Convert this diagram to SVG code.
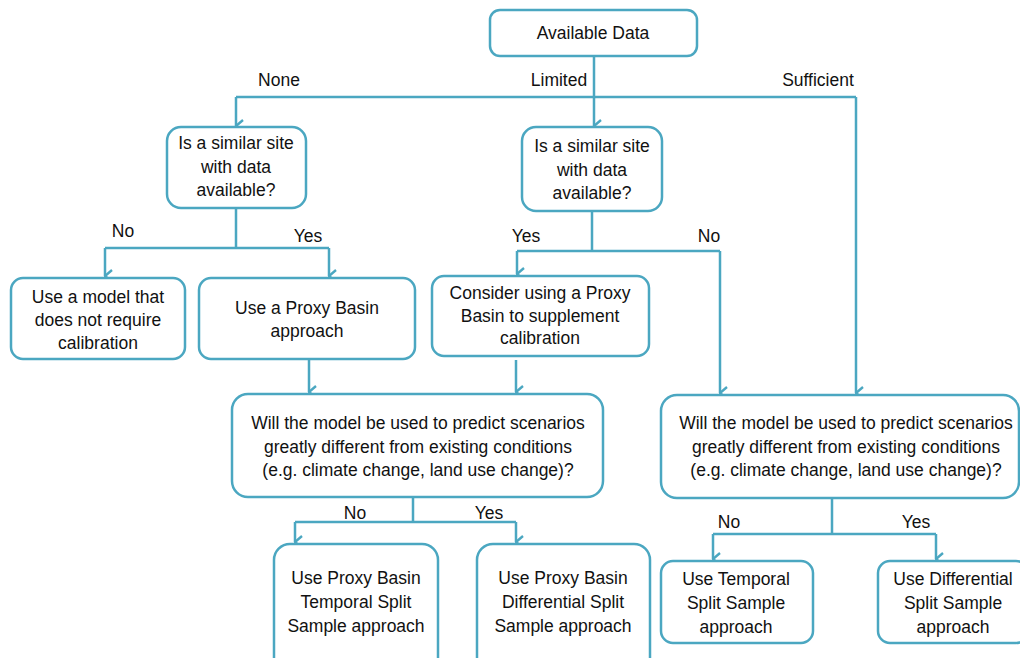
<svg xmlns="http://www.w3.org/2000/svg" width="1020" height="658" viewBox="0 0 1020 658">
<style>
.box{fill:#fff;stroke:#4BA7C1;stroke-width:2.5}
.t{font-family:"Liberation Sans",Arial,sans-serif;font-size:17.5px;fill:#111;text-anchor:middle;dominant-baseline:central}
.c{fill:none;stroke:#4BA7C1;stroke-width:2.5}
</style>
<defs>
<marker id="ar" viewBox="0 0 14 14" refX="7" refY="13" markerWidth="14" markerHeight="14" markerUnits="userSpaceOnUse" orient="auto-start-reverse">
<path d="M1,6 L7,13 L13,6" fill="none" stroke="#4BA7C1" stroke-width="2.4"/>
</marker>
</defs>
<rect width="1020" height="658" fill="#fff"/>
<g id="connectors">
<path class="c" d="M594,56 V97"/>
<path class="c" d="M236,97 H856"/>
<path class="c" d="M236,97 V126" marker-end="url(#ar)"/>
<path class="c" d="M594,97 V126" marker-end="url(#ar)"/>
<path class="c" d="M856,97 V393" marker-end="url(#ar)"/>
<path class="c" d="M236,208 V248 M105,248 H329"/>
<path class="c" d="M105,248 V276" marker-end="url(#ar)"/>
<path class="c" d="M329,248 V276" marker-end="url(#ar)"/>
<path class="c" d="M592,211 V251 M517,251 H720"/>
<path class="c" d="M517,251 V274" marker-end="url(#ar)"/>
<path class="c" d="M720,251 V393" marker-end="url(#ar)"/>
<path class="c" d="M309,359 V392" marker-end="url(#ar)"/>
<path class="c" d="M516,360 V392" marker-end="url(#ar)"/>
<path class="c" d="M413,497 V522 M295,522 H516"/>
<path class="c" d="M295,522 V542" marker-end="url(#ar)"/>
<path class="c" d="M516,522 V542" marker-end="url(#ar)"/>
<path class="c" d="M832,498 V534 M713,534 H936"/>
<path class="c" d="M713,534 V559" marker-end="url(#ar)"/>
<path class="c" d="M936,534 V559" marker-end="url(#ar)"/>
<text class="t" x="279" y="80">None</text>
<text class="t" x="559" y="80">Limited</text>
<text class="t" x="818" y="80">Sufficient</text>
<text class="t" x="123" y="231">No</text>
<text class="t" x="308" y="236">Yes</text>
<text class="t" x="526" y="236">Yes</text>
<text class="t" x="709" y="236">No</text>
<text class="t" x="355" y="513">No</text>
<text class="t" x="489" y="513">Yes</text>
<text class="t" x="729" y="522">No</text>
<text class="t" x="916" y="522">Yes</text>
</g>
<g id="available">
<rect class="box" x="490" y="10" width="207" height="46" rx="10"/>
<text class="t" x="593" y="33">Available Data</text>
</g>
<g id="q-left">
<rect class="box" x="167" y="127" width="139" height="81" rx="14"/>
<text class="t" x="236" y="143">Is a similar site</text>
<text class="t" x="236" y="167">with data</text>
<text class="t" x="236" y="190">available?</text>
</g>
<g id="q-mid">
<rect class="box" x="522" y="127" width="140" height="84" rx="14"/>
<text class="t" x="592" y="146">Is a similar site</text>
<text class="t" x="592" y="170">with data</text>
<text class="t" x="592" y="193">available?</text>
</g>
<g id="no-calib">
<rect class="box" x="11" y="278" width="174" height="81" rx="12"/>
<text class="t" x="98" y="297">Use a model that</text>
<text class="t" x="98" y="320">does not require</text>
<text class="t" x="98" y="343">calibration</text>
</g>
<g id="proxy">
<rect class="box" x="199" y="278" width="216" height="81" rx="12"/>
<text class="t" x="307" y="308">Use a Proxy Basin</text>
<text class="t" x="307" y="331">approach</text>
</g>
<g id="consider">
<rect class="box" x="432" y="276" width="217" height="80" rx="12"/>
<text class="t" x="540" y="293">Consider using a Proxy</text>
<text class="t" x="540" y="316">Basin to supplement</text>
<text class="t" x="540" y="338">calibration</text>
</g>
<g id="will-left">
<rect class="box" x="232" y="394" width="371" height="103" rx="16"/>
<text class="t" x="418" y="423">Will the model be used to predict scenarios</text>
<text class="t" x="418" y="447">greatly different from existing conditions</text>
<text class="t" x="418" y="470">(e.g. climate change, land use change)?</text>
</g>
<g id="will-right">
<rect class="box" x="661" y="395" width="358" height="103" rx="16"/>
<text class="t" x="846" y="423">Will the model be used to predict scenarios</text>
<text class="t" x="846" y="447">greatly different from existing conditions</text>
<text class="t" x="846" y="470">(e.g. climate change, land use change)?</text>
</g>
<g id="pb-temporal">
<rect class="box" x="274" y="544" width="164" height="130" rx="16"/>
<text class="t" x="356" y="578">Use Proxy Basin</text>
<text class="t" x="356" y="602">Temporal Split</text>
<text class="t" x="356" y="626">Sample approach</text>
</g>
<g id="pb-differential">
<rect class="box" x="477" y="544" width="173" height="130" rx="16"/>
<text class="t" x="563" y="578">Use Proxy Basin</text>
<text class="t" x="563" y="602">Differential Split</text>
<text class="t" x="563" y="626">Sample approach</text>
</g>
<g id="temporal">
<rect class="box" x="661" y="561" width="152" height="82" rx="12"/>
<text class="t" x="736" y="579">Use Temporal</text>
<text class="t" x="736" y="603">Split Sample</text>
<text class="t" x="736" y="627">approach</text>
</g>
<g id="differential">
<rect class="box" x="878" y="561" width="150" height="82" rx="12"/>
<text class="t" x="953" y="579">Use Differential</text>
<text class="t" x="953" y="603">Split Sample</text>
<text class="t" x="953" y="627">approach</text>
</g>
</svg>
